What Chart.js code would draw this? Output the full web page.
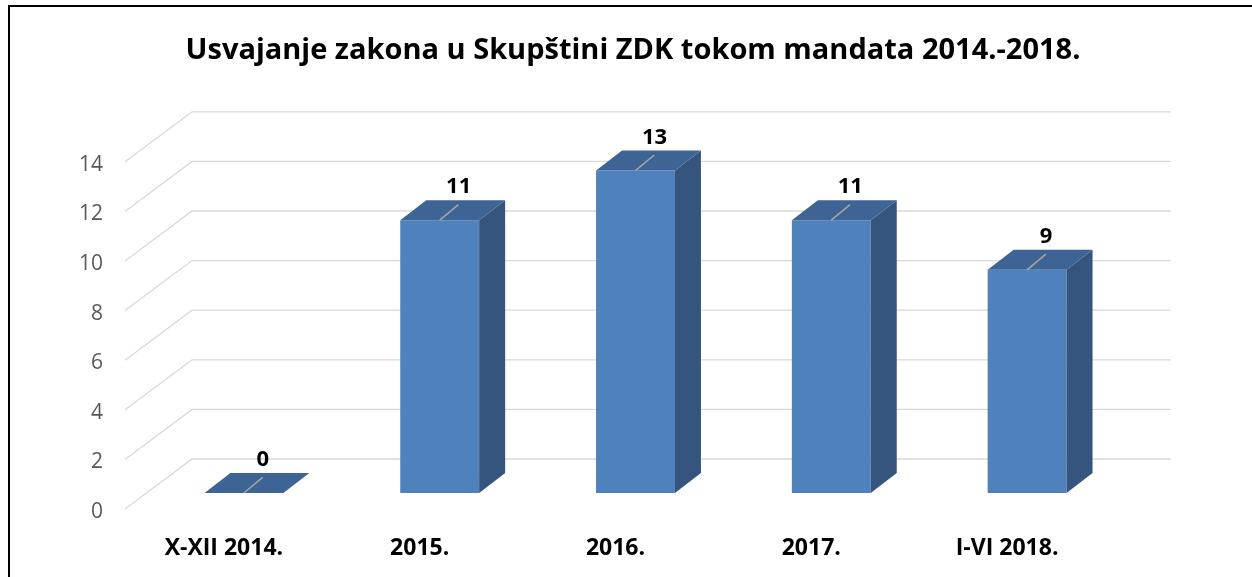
<!DOCTYPE html>
<html>
<head>
<meta charset="utf-8">
<script src="https://cdn.jsdelivr.net/npm/chart.js@4.4.1/dist/chart.umd.min.js"></script>
<style>
    html, body { margin: 0; padding: 0; background: #fff; overflow: hidden; }
    #frame { position: absolute; left: 8px; top: 5px; width: 1300px; height: 700px;
             border-left: 2px solid #000; border-top: 2px solid #000; }
    #wrap { position: absolute; left: 0; top: 0; width: 1252px; height: 577px; }
</style>
</head>
<body>
<div id="frame"></div>
<div id="wrap"><canvas id="lawsChart" width="1252" height="577"></canvas></div>
<script>
// data
const categories = ["X-XII 2014.", "2015.", "2016.", "2017.", "I-VI 2018."];
const lawsAdopted = [0, 11, 13, 11, 9];
const yTicks = [0, 2, 4, 6, 8, 10, 12, 14];
const chartTitle = "Usvajanje zakona u Skupštini ZDK tokom mandata 2014.-2018.";

// 3d look (pixels)
const barDepth = { x: 26, y: -20 };
const floorFront = { x: -21, y: 16 };
const floorBack = { x: 46, y: -34 };

const fontFamily = "'Open Sans', 'Noto Sans', sans-serif";

const fake3d = {
    id: "fake3d",
    beforeDatasetsDraw(chart) {
        let ctx = chart.ctx;
        let area = chart.chartArea;
        let yScale = chart.scales.y;
        ctx.save();
        ctx.strokeStyle = "#d9d9d9";
        ctx.lineWidth = 1.3;
        yTicks.forEach(v => {
            let py = yScale.getPixelForValue(v);
            ctx.beginPath();
            ctx.moveTo(area.left + floorFront.x, py + floorFront.y);
            ctx.lineTo(area.left + floorBack.x, py + floorBack.y);
            ctx.lineTo(area.right + floorBack.x, py + floorBack.y);
            ctx.stroke();
        });
        ctx.restore();
    },
    afterDatasetsDraw(chart) {
        let ctx = chart.ctx;
        let meta = chart.getDatasetMeta(0);
        ctx.save();
        meta.data.forEach((bar, i) => {
            let left = bar.x - bar.width / 2;
            let right = bar.x + bar.width / 2;
            let top = bar.y;
            let base = bar.base;
            let dx = barDepth.x, dy = barDepth.y;

            // side
            ctx.fillStyle = "#35557f";
            ctx.beginPath();
            ctx.moveTo(right, top);
            ctx.lineTo(right + dx, top + dy);
            ctx.lineTo(right + dx, base + dy);
            ctx.lineTo(right, base);
            ctx.closePath();
            ctx.fill();

            // top
            ctx.fillStyle = "#3d6494";
            ctx.beginPath();
            ctx.moveTo(left, top);
            ctx.lineTo(left + dx, top + dy);
            ctx.lineTo(right + dx, top + dy);
            ctx.lineTo(right, top);
            ctx.closePath();
            ctx.fill();

            // leader line
            ctx.strokeStyle = "#a6a6a6";
            ctx.lineWidth = 1.5;
            ctx.beginPath();
            ctx.moveTo(bar.x, top);
            ctx.lineTo(bar.x + dx * 0.72, top + dy * 0.78);
            ctx.stroke();

            // value label
            ctx.fillStyle = "#000";
            ctx.font = "bold 22px " + fontFamily;
            ctx.textAlign = "center";
            ctx.textBaseline = "middle";
            ctx.fillText(lawsAdopted[i], bar.x + 19, top - 33);
        });
        ctx.restore();
    }
};

let ctx = document.getElementById("lawsChart").getContext("2d");

let myChart = new Chart(ctx, {
    type: "bar",
    data: {
        labels: categories,
        datasets: [{
            data: lawsAdopted,
            backgroundColor: "#4f81bd",
            borderWidth: 0,
            categoryPercentage: 1,
            barPercentage: 0.403
        }]
    },
    options: {
        responsive: false,
        animation: false,
        devicePixelRatio: 1,
        layout: { padding: { left: 14, right: 0, top: 0, bottom: 0 } },
        plugins: {
            legend: { display: false },
            tooltip: { enabled: false },
            title: {
                display: true,
                text: chartTitle,
                color: "#000",
                font: { family: fontFamily, size: 29, weight: "bold" },
                padding: { top: 33, bottom: 78 }
            }
        },
        scales: {
            x: {
                grid: { display: false },
                border: { display: false },
                ticks: {
                    color: "#000",
                    font: { family: fontFamily, size: 23, weight: "bold" },
                    padding: 34,
                    labelOffset: -20,
                    maxRotation: 0
                },
                afterFit(scale) { scale.height = 84; }
            },
            y: {
                min: 0,
                max: 14,
                grid: { display: false },
                border: { display: false },
                afterBuildTicks(scale) { scale.ticks = yTicks.map(v => ({ value: v })); },
                ticks: {
                    color: "#595959",
                    font: { family: fontFamily, size: 21 },
                    padding: 35,
                    labelOffset: 19
                },
                afterFit(scale) { scale.width = 132; }
            },
            y2: {
                type: "linear",
                position: "right",
                grid: { display: false },
                border: { display: false },
                ticks: { display: false },
                afterFit(scale) { scale.width = 127; }
            }
        }
    },
    plugins: [fake3d]
});
</script>
</body>
</html>
